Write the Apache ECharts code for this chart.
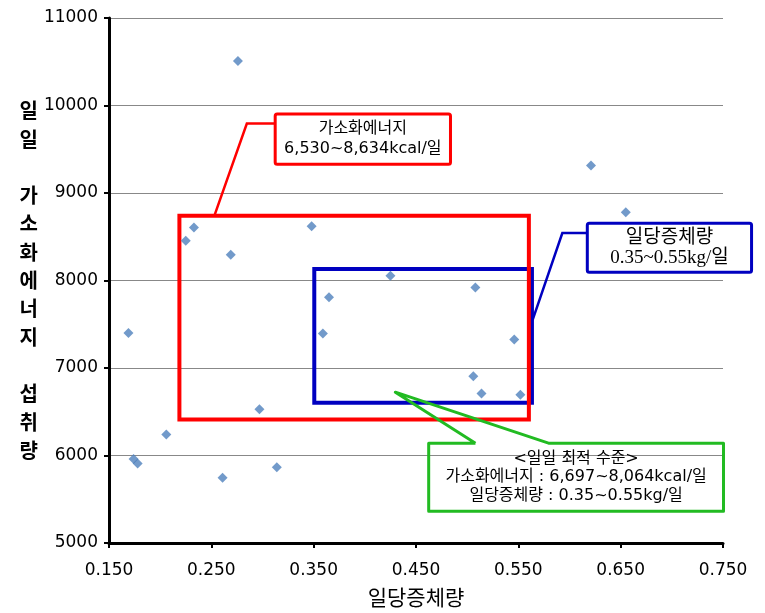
<!DOCTYPE html>
<html>
<head>
<meta charset="utf-8">
<script src="https://cdn.jsdelivr.net/npm/echarts@6/dist/echarts.min.js"></script>
<style>
html,body{margin:0;padding:0;background:#fff;}
#chart{width:765px;height:613px;}
</style>
</head>
<body>
<div id="chart"></div>
<script>
// daily weight gain (kg/day) and daily digestible energy intake (kcal/day)
const weightGain   = [0.169, 0.174, 0.178, 0.206, 0.225, 0.233, 0.261, 0.269, 0.276, 0.297, 0.314,
                      0.348, 0.359, 0.365, 0.425, 0.506, 0.508, 0.514, 0.546, 0.552, 0.621, 0.655];
const energyIntake = [7400, 5960, 5910, 6240, 8455, 8605, 5745, 8295, 10510, 6530, 5865,
                      8620, 7395, 7810, 8055, 6905, 7920, 6710, 7325, 6695, 9315, 8780];

const xTicks = [0.15, 0.25, 0.35, 0.45, 0.55, 0.65, 0.75];
const yTicks = [5000, 6000, 7000, 8000, 9000, 10000, 11000];

const xName = '일당증체량';
const yName = '일\n일\n\n가\n소\n화\n에\n너\n지\n\n섭\n취\n량';

// annotation regions (data units)
const redRange  = [[0.2188, 8741], [0.5603, 6412]];
const blueRange = [[0.3506, 8132], [0.5633, 6602]];

const redNote   = ['가소화에너지', '6,530~8,634kcal/일'];
const blueNote  = ['일당증체량', '0.35~0.55kg/일'];
const greenNote = ['<일일 최적 수준>', '가소화에너지 : 6,697~8,064kcal/일', '일당증체량 : 0.35~0.55kg/일'];

// callout geometry in data units
const redBox    = [[0.3124, 9902], [0.4837, 9330]];
const redLeader = [[0.3124, 9794], [0.2847, 9794], [0.2530, 8741]];
const blueBox   = [[0.6174, 8654], [0.7779, 8094]];
const blueLeader= [[0.6174, 8543], [0.5930, 8543], [0.5639, 7548]];
const greenBox  = [[0.4624, 6141], [0.7505, 5363]];
const greenTip  = [[0.5081, 6141], [0.4298, 6724], [0.5795, 6141]];

const chart = echarts.init(document.getElementById('chart'), null, {renderer: 'canvas'});

const pts = weightGain.map((x, i) => [x, energyIntake[i]]);
const NUM_FONT = '"DejaVu Sans", "Noto Sans CJK KR", sans-serif';
const KR_FONT = '"Noto Sans CJK KR", sans-serif';

chart.setOption({
  animation: false,
  backgroundColor: '#ffffff',
  grid: {left: 109, right: 42, top: 18, bottom: 70, containLabel: false, outerBoundsMode: 'none'},
  xAxis: {
    type: 'value',
    min: xTicks[0], max: xTicks[xTicks.length - 1],
    name: xName, nameLocation: 'middle', nameGap: 44,
    nameTextStyle: {color: '#000', fontSize: 21, fontFamily: KR_FONT},
    axisLine: {lineStyle: {color: '#000', width: 3}},
    axisTick: {show: true, inside: false, length: 5, customValues: xTicks, lineStyle: {color: '#000', width: 2}},
    axisLabel: {customValues: xTicks, margin: 19, color: '#000', fontSize: 17, fontFamily: NUM_FONT,
                formatter: v => Number(v).toFixed(3)},
    splitLine: {show: false}
  },
  yAxis: {
    type: 'value',
    min: yTicks[0], max: yTicks[yTicks.length - 1], interval: 1000,
    name: yName, nameLocation: 'middle', nameGap: 78, nameRotate: 0,
    nameTextStyle: {color: '#000', fontSize: 20, fontWeight: 'bold', fontFamily: KR_FONT,
                    lineHeight: 28.3, align: 'center', verticalAlign: 'middle'},
    axisLine: {show: true, lineStyle: {color: '#000', width: 3}},
    axisTick: {show: true, inside: false, length: 5, lineStyle: {color: '#000', width: 2}},
    axisLabel: {margin: 11, color: '#000', fontSize: 17, fontFamily: NUM_FONT,
                formatter: v => String(v)},
    splitLine: {show: true, lineStyle: {color: '#888888', width: 1}}
  },
  series: [{
    type: 'scatter',
    data: pts,
    symbol: 'diamond',
    symbolSize: 10,
    itemStyle: {color: '#4f81bd'},
    z: 2,
    markArea: {
      silent: true,
      data: [
        [{coord: blueRange[0], itemStyle: {color: 'rgba(0,0,0,0)', borderColor: '#0000c0', borderWidth: 4}},
         {coord: blueRange[1]}],
        [{coord: redRange[0], itemStyle: {color: 'rgba(0,0,0,0)', borderColor: '#ff0000', borderWidth: 4}},
         {coord: redRange[1]}]
      ]
    }
  }]
});

function px(p) { return chart.convertToPixel({gridIndex: 0}, p); }
function boxShape(b) {
  const a = px(b[0]), c = px(b[1]);
  return {x: Math.min(a[0], c[0]), y: Math.min(a[1], c[1]), width: Math.abs(c[0] - a[0]), height: Math.abs(c[1] - a[1])};
}

const graphics = [];
// red callout
const rb = boxShape(redBox);
graphics.push({type: 'polyline', z: 10, shape: {points: redLeader.map(px)}, style: {stroke: '#ff0000', lineWidth: 2.5, fill: null}});
graphics.push({type: 'rect', z: 11, shape: Object.assign({r: 2}, rb), style: {fill: '#fff', stroke: '#ff0000', lineWidth: 3}});
graphics.push({type: 'text', z: 12, x: rb.x + rb.width / 2, y: rb.y + rb.height / 2,
  style: {text: redNote.join('\n'), fill: '#000', font: '16px ' + NUM_FONT, lineHeight: 20, align: 'center', verticalAlign: 'middle'}});
// blue callout
const bb = boxShape(blueBox);
graphics.push({type: 'polyline', z: 10, shape: {points: blueLeader.map(px)}, style: {stroke: '#0000c0', lineWidth: 2.5, fill: null}});
graphics.push({type: 'rect', z: 11, shape: Object.assign({r: 2}, bb), style: {fill: '#fff', stroke: '#0000c0', lineWidth: 3}});
graphics.push({type: 'text', z: 12, x: bb.x + bb.width / 2, y: bb.y + bb.height / 2,
  style: {text: blueNote.join('\n'), fill: '#000', font: '19px "Liberation Serif", "Noto Sans CJK KR", serif', lineHeight: 20, align: 'center', verticalAlign: 'middle'}});
// green callout (open shape with wedge)
const g0 = px(greenBox[0]), g1 = px(greenBox[1]);
const t = greenTip.map(px);
graphics.push({type: 'polyline', z: 10, shape: {points: [
  t[0], t[1], t[2], [g1[0], g0[1]], [g1[0], g1[1]], [g0[0], g1[1]], [g0[0], g0[1]], t[0]
]}, style: {stroke: '#22bb22', lineWidth: 3, fill: null, lineJoin: 'round'}});
graphics.push({type: 'text', z: 12, x: (g0[0] + g1[0]) / 2, y: (g0[1] + g1[1]) / 2,
  style: {text: greenNote.join('\n'), fill: '#000', font: '16px ' + NUM_FONT, lineHeight: 18.5, align: 'center', verticalAlign: 'middle'}});

chart.setOption({graphic: graphics});
</script>
</body>
</html>
